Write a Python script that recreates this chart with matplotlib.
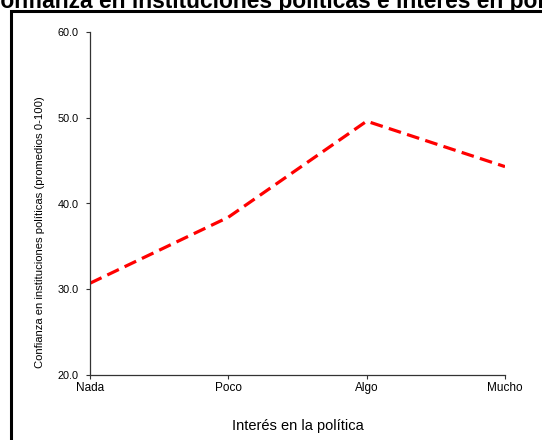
import matplotlib
matplotlib.use('Agg')
import matplotlib.pyplot as plt
from matplotlib.patches import Rectangle

plt.rcParams['font.family'] = ['Liberation Sans', 'DejaVu Sans']

# data
categories = ['Nada', 'Poco', 'Algo', 'Mucho']
confianza = [30.7, 38.4, 49.6, 44.3]
y_ticks = [20.0, 30.0, 40.0, 50.0, 60.0]

W, H = 542, 440
fig = plt.figure(figsize=(W / 100, H / 100), dpi=100)

# outer frame (only left and top edges fall inside the image)
fig.patches.append(Rectangle((11 / W, -0.2), 1.5, 1 - 11 / H + 0.2,
                             transform=fig.transFigure, fill=False,
                             lw=2.2, ec='black', zorder=0))

fig.text(0.528, 1 - 8 / H, 'Confianza en instituciones políticas e interés en política',
         ha='center', va='baseline', fontsize=16.4, fontweight='bold')

ax = fig.add_axes([90 / W, 1 - 375 / H, (505 - 90) / W, (375 - 32) / H])
x = range(len(categories))
ax.plot(x, confianza, color='red', lw=2.3, dashes=(4, 2), solid_capstyle='butt')

ax.set_xlim(0, len(categories) - 1)
ax.set_ylim(20, 60)
ax.set_xticks(list(x))
ax.set_xticklabels(categories, fontsize=8.5)
ax.set_yticks(y_ticks)
ax.set_yticklabels(['%.1f' % v for v in y_ticks], fontsize=7.8)

for s in ['top', 'right']:
    ax.spines[s].set_visible(False)
for s in ['left', 'bottom']:
    ax.spines[s].set_linewidth(0.9)
    ax.spines[s].set_color('#333333')
ax.tick_params(length=3, width=0.8, color='#333333')
ax.tick_params(axis='x', pad=2)
ax.tick_params(axis='y', pad=5)

ax.set_xlabel('Interés en la política', fontsize=10.5, labelpad=18)
fig.text(40 / W, 1 - 232 / H, 'Confianza en instituciones políticas (promedios 0-100)',
         rotation=90, ha='center', va='center', fontsize=8.1)

fig.savefig('out.png', dpi=100)
